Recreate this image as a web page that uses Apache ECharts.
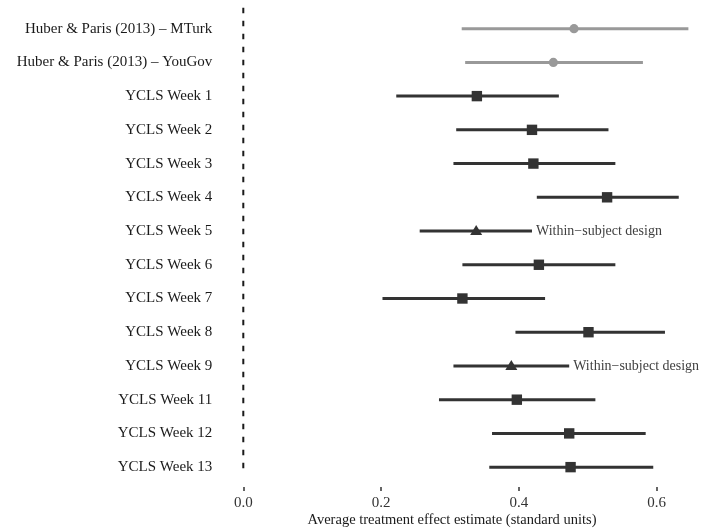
<!DOCTYPE html>
<html>
<head>
<meta charset="utf-8">
<script src="https://cdn.jsdelivr.net/npm/echarts@6/dist/echarts.min.js"></script>
<style>
  html, body { margin: 0; padding: 0; background: #ffffff; }
  #chart { width: 703px; height: 528px; }
</style>
</head>
<body>
<div id="chart"></div>
<script>
// Study labels, top to bottom
const studies = [
  'Huber & Paris (2013) \u2013 MTurk',
  'Huber & Paris (2013) \u2013 YouGov',
  'YCLS Week 1', 'YCLS Week 2', 'YCLS Week 3', 'YCLS Week 4',
  'YCLS Week 5', 'YCLS Week 6', 'YCLS Week 7', 'YCLS Week 8',
  'YCLS Week 9', 'YCLS Week 11', 'YCLS Week 12', 'YCLS Week 13'
];
// Point estimates and confidence bounds (standard units)
const estimates = [0.480, 0.450, 0.339, 0.419, 0.421, 0.528, 0.338, 0.429, 0.318, 0.501, 0.389, 0.397, 0.473, 0.475];
const lowerCI   = [0.317, 0.322, 0.222, 0.309, 0.305, 0.426, 0.256, 0.318, 0.202, 0.395, 0.305, 0.284, 0.361, 0.357];
const upperCI   = [0.646, 0.580, 0.458, 0.530, 0.540, 0.632, 0.419, 0.540, 0.438, 0.612, 0.473, 0.511, 0.584, 0.595];
// Marker shape per study
const shapes = ['circle', 'circle', 'square', 'square', 'square', 'square', 'triangle',
                'square', 'square', 'square', 'triangle', 'square', 'square', 'square'];
// Source of each estimate
const sources = ['prior', 'prior', 'ycls', 'ycls', 'ycls', 'ycls', 'ycls',
                 'ycls', 'ycls', 'ycls', 'ycls', 'ycls', 'ycls', 'ycls'];
// Notes printed beside the interval
const notes = ['', '', '', '', '', '', 'Within\u2212subject design', '', '', '', 'Within\u2212subject design', '', '', ''];
// X axis ticks
const xTicks = [0, 0.2, 0.4, 0.6];
// Position of the null-effect reference line
const nullEffect = [0];

const colors = { prior: '#999999', ycls: '#333333' };
const serif = '"Liberation Serif", "DejaVu Serif", serif';

const rows = studies.map((s, i) => [lowerCI[i], upperCI[i], estimates[i], i]);

const chart = echarts.init(document.getElementById('chart'), null, { renderer: 'canvas' });

chart.setOption({
  animation: false,
  backgroundColor: '#ffffff',
  grid: { left: 243.3, right: 11.85, top: 11.8, bottom: 44, containLabel: false },
  xAxis: {
    type: 'value',
    min: 0,
    max: 0.65,
    interval: 0.2,
    offset: 3,
    splitLine: { show: false },
    axisLine: { show: false },
    axisTick: { show: true, length: 4, customValues: xTicks, lineStyle: { color: '#333333', width: 1.5 } },
    axisLabel: {
      customValues: xTicks,
      margin: 9,
      color: '#333333',
      fontFamily: serif,
      fontSize: 15,
      formatter: v => v.toFixed(1)
    }
  },
  yAxis: {
    type: 'category',
    data: studies,
    inverse: true,
    boundaryGap: true,
    axisLine: { show: false },
    axisTick: { show: false },
    splitLine: { show: false },
    axisLabel: {
      margin: 31,
      color: '#1a1a1a',
      fontFamily: serif,
      fontSize: 15
    }
  },
  graphic: [{
    type: 'text',
    x: 452,
    y: 520,
    style: {
      text: 'Average treatment effect estimate (standard units)',
      fill: '#1a1a1a',
      font: '14.5px ' + serif,
      textAlign: 'center',
      textVerticalAlign: 'middle'
    }
  }],
  series: [{
    // dashed vertical line at zero effect, spanning the plot height
    type: 'custom',
    clip: false,
    encode: { x: 0 },
    data: nullEffect.map(v => [v]),
    renderItem: function (params, api) {
      const cs = params.coordSys;
      const x = api.coord([api.value(0), 0])[0];
      return {
        type: 'line',
        shape: { x1: x, y1: cs.y - 4, x2: x, y2: cs.y + cs.height - 9 },
        style: { stroke: '#1a1a1a', lineWidth: 2, lineDash: [5.5, 7.5] }
      };
    }
  }, {
    // confidence intervals, point estimates and notes
    type: 'custom',
    clip: false,
    encode: { x: [0, 1, 2], y: 3 },
    data: rows,
    renderItem: function (params, api) {
      const i = params.dataIndex;
      const cat = api.value(3);
      const pLo = api.coord([api.value(0), cat]);
      const pHi = api.coord([api.value(1), cat]);
      const pEst = api.coord([api.value(2), cat]);
      const col = colors[sources[i]];
      const children = [{
        type: 'line',
        shape: { x1: pLo[0], y1: pLo[1], x2: pHi[0], y2: pHi[1] },
        style: { stroke: col, lineWidth: 3 }
      }];
      const shp = shapes[i];
      if (shp === 'circle') {
        children.push({ type: 'circle', shape: { cx: pEst[0], cy: pEst[1], r: 4.6 }, style: { fill: col } });
      } else if (shp === 'square') {
        children.push({ type: 'rect', shape: { x: pEst[0] - 5.2, y: pEst[1] - 5.2, width: 10.4, height: 10.4 }, style: { fill: col } });
      } else {
        children.push({
          type: 'polygon',
          shape: { points: [[pEst[0], pEst[1] - 6], [pEst[0] - 6, pEst[1] + 4], [pEst[0] + 6, pEst[1] + 4]] },
          style: { fill: col }
        });
      }
      if (notes[i]) {
        children.push({
          type: 'text',
          style: {
            text: notes[i],
            x: pHi[0] + 4,
            y: pHi[1],
            verticalAlign: 'middle',
            textAlign: 'left',
            fill: '#404040',
            font: '14px ' + serif
          }
        });
      }
      return { type: 'group', children: children };
    }
  }]
});
</script>
</body>
</html>
